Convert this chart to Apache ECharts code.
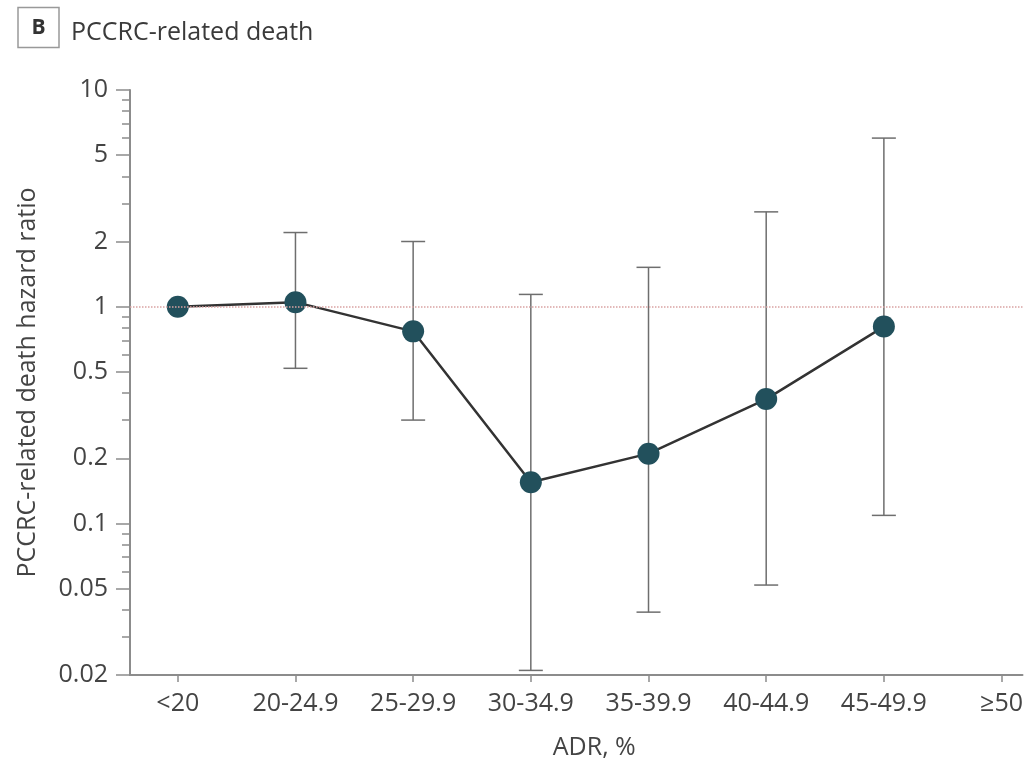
<!DOCTYPE html>
<html>
<head>
<meta charset="utf-8">
<script src="https://cdn.jsdelivr.net/npm/echarts@6/dist/echarts.min.js"></script>
<style>
  html, body { margin: 0; padding: 0; background: #fff; }
  #hrChart { width: 1026px; height: 767px; }
</style>
</head>
<body>
<div id="hrChart"></div>
<script>
var categories = ['<20', '20-24.9', '25-29.9', '30-34.9', '35-39.9', '40-44.9', '45-49.9', '≥50'];
var hazardRatio = [1, 1.05, 0.77, 0.155, 0.21, 0.375, 0.81];
var ciLower = [null, 0.52, 0.30, 0.021, 0.039, 0.052, 0.109];
var ciUpper = [null, 2.2, 2.0, 1.14, 1.52, 2.74, 6.0];
var majorTicks = [0.02, 0.05, 0.1, 0.2, 0.5, 1, 2, 5, 10];
var minorTicks = [0.03, 0.04, 0.06, 0.07, 0.08, 0.09, 0.3, 0.4, 0.6, 0.7, 0.8, 0.9, 3, 4, 6, 7, 8, 9];

var fontFam = '"Open Sans", "DejaVu Sans", sans-serif';
var axisGray = '#8c8c8c';

var pointData = hazardRatio.map(function (v, i) { return [i, v]; });
var ciData = [];
ciLower.forEach(function (lo, i) {
  if (lo != null) ciData.push([i, lo, ciUpper[i]]);
});

var myChart = echarts.init(document.getElementById('hrChart'));
var option = {
  backgroundColor: '#fff',
  animation: false,
  textStyle: { fontFamily: fontFam },
  title: {
    left: 18,
    top: 10,
    padding: 0,
    text: '{box|B}{t|PCCRC-related death}',
    textStyle: {
      fontFamily: fontFam,
      fontSize: 25,
      fontWeight: 'normal',
      color: '#3a3a3a',
      rich: {
        box: {
          fontFamily: fontFam,
          fontWeight: 'bold',
          fontSize: 21,
          color: '#333',
          borderColor: '#999',
          borderWidth: 1.5,
          width: 21,
          align: 'center',
          lineHeight: 24,
          padding: [10, 10, 9, 10]
        },
        t: {
          fontFamily: fontFam,
          fontSize: 25,
          fontWeight: 'normal',
          color: '#3a3a3a',
          padding: [10, 0, 0, 12]
        }
      }
    }
  },
  grid: { left: 130, right: 0, top: 90, bottom: 92 },
  xAxis: {
    type: 'value',
    min: -0.406,
    max: 7.178,
    name: 'ADR, %',
    nameLocation: 'middle',
    nameGap: 60,
    nameTextStyle: { fontSize: 25, color: '#444', padding: [0, 0, 0, 36] },
    axisLine: { onZero: false, lineStyle: { color: axisGray, width: 2 } },
    axisTick: { show: true, length: 7, customValues: [0, 1, 2, 3, 4, 5, 6, 7], lineStyle: { color: axisGray, width: 1.5 } },
    axisLabel: {
      customValues: [0, 1, 2, 3, 4, 5, 6, 7],
      fontSize: 25,
      color: '#444',
      margin: 16,
      formatter: function (v) { return categories[Math.round(v)]; }
    },
    splitLine: { show: false }
  },
  yAxis: [{
    type: 'log',
    logBase: 10,
    min: 0.02,
    max: 10,
    position: 'left',
    name: 'PCCRC-related death hazard ratio',
    nameLocation: 'middle',
    nameGap: 90,
    nameTextStyle: { fontSize: 25, color: '#444' },
    axisLine: { show: true, onZero: false, lineStyle: { color: axisGray, width: 2 } },
    axisTick: { show: true, length: 14, customValues: majorTicks, lineStyle: { color: axisGray, width: 1.5 } },
    axisLabel: {
      customValues: majorTicks,
      fontSize: 25,
      color: '#444',
      margin: 22,
      formatter: function (v) { return String(+v.toPrecision(3)); }
    },
    splitLine: { show: false }
  }, {
    type: 'log',
    logBase: 10,
    min: 0.02,
    max: 10,
    position: 'left',
    axisLine: { show: false, onZero: false },
    axisTick: { show: true, length: 8, customValues: minorTicks, lineStyle: { color: axisGray, width: 1.5 } },
    axisLabel: { show: false },
    splitLine: { show: false }
  }],
  series: [
    {
      type: 'custom',
      name: 'CI',
      z: 2,
      data: ciData,
      renderItem: function (params, api) {
        var x = api.value(0);
        var lo = api.coord([x, api.value(1)]);
        var hi = api.coord([x, api.value(2)]);
        var half = 12;
        var st = { stroke: '#6e6e6e', lineWidth: 1.5 };
        return {
          type: 'group',
          children: [
            { type: 'line', shape: { x1: lo[0], y1: lo[1], x2: hi[0], y2: hi[1] }, style: st },
            { type: 'line', shape: { x1: hi[0] - half, y1: hi[1], x2: hi[0] + half, y2: hi[1] }, style: st },
            { type: 'line', shape: { x1: lo[0] - half, y1: lo[1], x2: lo[0] + half, y2: lo[1] }, style: st }
          ]
        };
      }
    },
    {
      type: 'line',
      name: 'HR',
      z: 3,
      data: pointData,
      symbol: 'circle',
      symbolSize: 22,
      itemStyle: { color: '#22505c' },
      lineStyle: { color: '#333', width: 2.5 },
      markLine: {
        silent: true,
        symbol: 'none',
        label: { show: false },
        lineStyle: { color: '#d9a3a3', type: 'dotted', width: 1.5 },
        data: [{ yAxis: 1 }]
      }
    }
  ]
};
myChart.setOption(option);
</script>
</body>
</html>
